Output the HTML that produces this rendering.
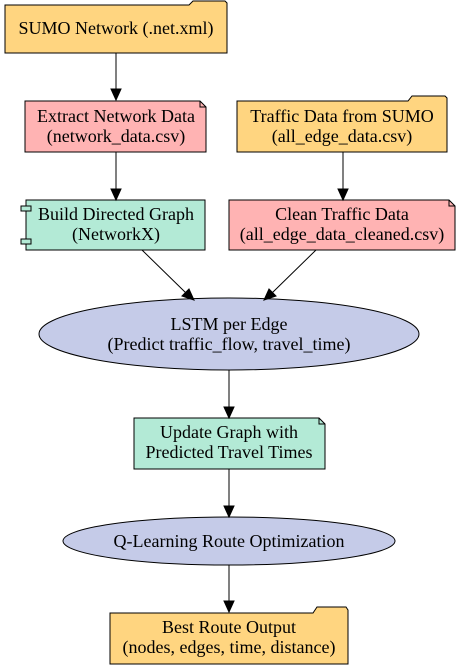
<!DOCTYPE html>
<html><head><meta charset="utf-8"><style>
html,body{margin:0;padding:0;background:#fff;}
svg{display:block;}
</style></head><body>
<svg width="461" height="669" viewBox="0 0 461 669" xmlns="http://www.w3.org/2000/svg">
<g stroke="#000" stroke-width="1">
<path d="M5,5 H189 L193,1 H225 L227,3 V53 H5 Z" fill="#ffd580"/>
<path d="M25,101 H200 L206,107 V152 H25 Z" fill="#ffb3b3"/>
<path d="M200,101 V107 H206" fill="none"/>
<path d="M237,101 H408 L412,96 H445 L447,98 V152 H237 Z" fill="#ffd580"/>
<rect x="26" y="200" width="179" height="50" fill="#b3ead6"/>
<rect x="21" y="206" width="10" height="5" fill="#b3ead6"/>
<rect x="21" y="239" width="10" height="5" fill="#b3ead6"/>
<path d="M229,200 H449 L455,206 V250 H229 Z" fill="#ffb3b3"/>
<path d="M449,200 V206 H455" fill="none"/>
<ellipse cx="229" cy="334" rx="190" ry="36" fill="#c5cbe8"/>
<path d="M134,418 H319 L325,424 V469 H134 Z" fill="#b3ead6"/>
<path d="M319,418 V424 H325" fill="none"/>
<ellipse cx="229" cy="541" rx="166" ry="24" fill="#c5cbe8"/>
<path d="M110,613 H313 L317,607 H346 L348,610 V664 H110 Z" fill="#ffd580"/>
<line x1="116" y1="53" x2="116" y2="90"/>
<line x1="116" y1="152" x2="116" y2="190"/>
<line x1="343" y1="152" x2="343" y2="190"/>
<line x1="142" y1="250" x2="186" y2="293"/>
<line x1="316" y1="250" x2="272" y2="293"/>
<line x1="229" y1="370" x2="229" y2="408"/>
<line x1="229" y1="469" x2="229" y2="507"/>
<line x1="229" y1="565" x2="229" y2="602"/>
</g>
<g fill="#000" stroke="#000">
<polygon points="111,89 121,89 116,100"/>
<polygon points="111,189 121,189 116,200"/>
<polygon points="338,189 348,189 343,200"/>
<polygon points="182,296 189,289 194,300"/>
<polygon points="269,289 276,296 264,300"/>
<polygon points="224,407 234,407 229,418"/>
<polygon points="224,506 234,506 229,517"/>
<polygon points="224,601 234,601 229,612"/>
</g>
<g text-anchor="middle" font-family="Liberation Serif, serif" font-size="18" fill="#000">
<text x="116" y="34">SUMO Network (.net.xml)</text>
<text x="116" y="122">Extract Network Data</text>
<text x="116" y="142">(network_data.csv)</text>
<text x="342" y="122">Traffic Data from SUMO</text>
<text x="342" y="142">(all_edge_data.csv)</text>
<text x="116" y="220">Build Directed Graph</text>
<text x="116" y="240">(NetworkX)</text>
<text x="342" y="220">Clean Traffic Data</text>
<text x="342" y="240">(all_edge_data_cleaned.csv)</text>
<text x="229" y="330">LSTM per Edge</text>
<text x="229" y="350">(Predict traffic_flow, travel_time)</text>
<text x="229" y="438">Update Graph with</text>
<text x="229" y="458">Predicted Travel Times</text>
<text x="229" y="547">Q-Learning Route Optimization</text>
<text x="229" y="633">Best Route Output</text>
<text x="229" y="653">(nodes, edges, time, distance)</text>
</g>
</svg>
</body></html>
